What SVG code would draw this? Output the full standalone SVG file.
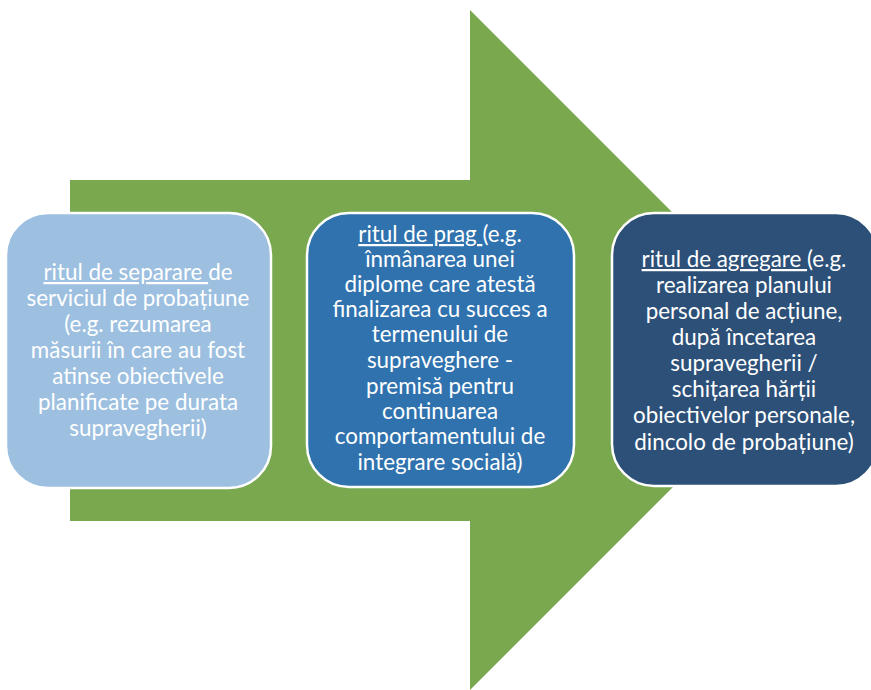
<svg xmlns="http://www.w3.org/2000/svg" width="871" height="690" viewBox="0 0 871 690">
<style>
.box{stroke:#ffffff;stroke-width:2.5}
.t{font-family:Lato,"Open Sans","Liberation Sans",sans-serif;font-size:22.4px;fill:#ffffff;text-anchor:middle}
.u{text-decoration:underline}
</style>
<rect width="871" height="690" fill="#ffffff"/>
<g id="arrow">
<polygon points="70,180 470,180 470,10 810,350 470,690 470,521 70,521" fill="#79A84F"/>
</g>
<g id="connectors"></g>
<g id="node1">
<rect class="box" x="6" y="213" width="265" height="275" rx="42" fill="#9DBFE0"/>
<text class="t" x="138" y="280"><tspan class="u">ritul de separare </tspan>de</text>
<text class="t" x="138" y="306">serviciul de probațiune</text>
<text class="t" x="138" y="332">(e.g. rezumarea</text>
<text class="t" x="138" y="358">măsurii în care au fost</text>
<text class="t" x="138" y="384">atinse obiectivele</text>
<text class="t" x="138" y="410">planificate pe durata</text>
<text class="t" x="138" y="436">supravegherii)</text>
</g>
<g id="node2">
<rect class="box" x="307" y="213" width="267" height="274" rx="42" fill="#2F72AE"/>
<text class="t" x="440" y="242"><tspan class="u">ritul de prag </tspan>(e.g.</text>
<text class="t" x="440" y="267">înmânarea unei</text>
<text class="t" x="440" y="292">diplome care atestă</text>
<text class="t" x="440" y="317">finalizarea cu succes a</text>
<text class="t" x="440" y="342">termenului de</text>
<text class="t" x="440" y="368">supraveghere -</text>
<text class="t" x="440" y="394">premisă pentru</text>
<text class="t" x="440" y="419">continuarea</text>
<text class="t" x="440" y="444">comportamentului de</text>
<text class="t" x="440" y="470">integrare socială)</text>
</g>
<g id="node3">
<rect class="box" x="612" y="213" width="266" height="273" rx="42" fill="#2C5078"/>
<text class="t" x="744" y="267"><tspan class="u">ritul de agregare </tspan>(e.g.</text>
<text class="t" x="744" y="293">realizarea planului</text>
<text class="t" x="744" y="319">personal de acțiune,</text>
<text class="t" x="744" y="345">după încetarea</text>
<text class="t" x="744" y="371">supravegherii /</text>
<text class="t" x="744" y="397">schițarea hărții</text>
<text class="t" x="744" y="423">obiectivelor personale,</text>
<text class="t" x="744" y="450">dincolo de probațiune)</text>
</g>
</svg>
